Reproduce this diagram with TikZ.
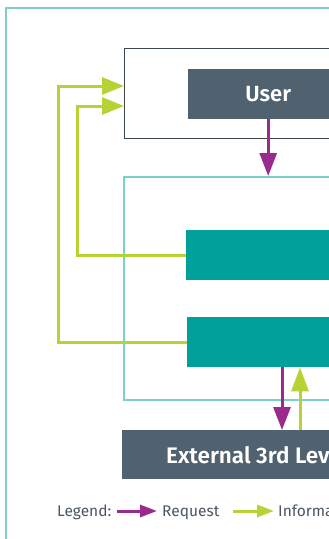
\documentclass[tikz,border=0pt]{standalone}
\usepackage{fontspec}
\setmainfont{Fira Sans}[BoldFont={Fira Sans SemiBold}]
\usetikzlibrary{arrows.meta}
\definecolor{tealfill}{HTML}{00A19A}
\definecolor{tealline}{HTML}{7DD0CA}
\definecolor{slate}{HTML}{506170}
\definecolor{lime}{HTML}{B5D334}
\definecolor{purp}{HTML}{9B2A8E}
\definecolor{boxline}{HTML}{3C4650}
\definecolor{legtext}{HTML}{4A5562}
\tikzset{
  req/.style={draw=purp, line width=3pt, -{Triangle[length=23pt,width=17pt]}},
  info/.style={draw=lime, line width=3pt, -{Triangle[length=22pt,width=17pt]}},
  legreq/.style={draw=purp, line width=3pt, -{Triangle[length=17pt,width=12pt]}},
  leginfo/.style={draw=lime, line width=3pt, -{Triangle[length=17pt,width=12pt]}},
  tealbox/.style={fill=tealfill, draw=none, anchor=north west, minimum height=50pt, minimum width=250pt},
  slatebox/.style={fill=slate, draw=none, anchor=north west, text=white, font=\bfseries\fontsize{22}{25}\selectfont},
  legtxt/.style={text=legtext, font=\fontsize{15.5}{18}\selectfont, inner sep=0pt, anchor=base west}
}
\begin{document}
\begin{tikzpicture}[x=1pt,y=-1pt]
\useasboundingbox (0,0) rectangle (329,539);
\clip (0,0) rectangle (329,539);
% outer frame
\node[draw=tealline, line width=1.5pt, anchor=north west, minimum width=400pt, minimum height=600pt] (outer) at (5,7) {};
% user frame
\node[draw=boxline, line width=1pt, anchor=north west, minimum width=300pt, minimum height=90pt] (ubox) at (124,48) {};
\node[slatebox, minimum width=160pt, minimum height=50pt] (user) at (188,69) {User};
% inner teal frame
\node[draw=tealline, line width=1.5pt, anchor=north west, minimum width=300pt, minimum height=223pt] (inner) at (123,176) {};
\node[tealbox] (b1) at (186,230) {};
\node[tealbox] (b2) at (187,317) {};
% external
\node[fill=slate, anchor=north west, minimum width=300pt, minimum height=49pt] (ext) at (122,430) {};
\node[anchor=west, text=white, font=\bfseries\fontsize{22.5}{25}\selectfont, inner sep=0pt] (extt) at (166,455) {External 3rd Lev};
% connectors
\coordinate (u1) at (124,86);
\coordinate (u2) at (124,106);
\draw[req] (user.south) -- (user.south |- inner.north);
\draw[info, -] (b2.west) -| ([xshift=-66pt]u1);
\draw[info] ([xshift=-67.5pt]u1) -- (u1);
\draw[info, -] (b1.west) -| ([xshift=-47pt]u2);
\draw[info] ([xshift=-48.5pt]u2) -- (u2);
\draw[req] ([xshift=95pt]b2.south west) -- ([xshift=160pt]ext.north west);
\draw[info,-{Triangle[length=24pt,width=17pt]}] ([xshift=178pt]ext.north west) -- ([xshift=113pt]b2.south west);
% legend
\node[legtxt] (leg) at (57,516) {Legend:};
\node[legtxt] (reqt) at (162,516) {Request};
\node[legtxt] (inft) at (278,516) {Informa};
\draw[legreq] (117,511) -- (157,511);
\draw[leginfo] (233,511) -- (274,511);
\end{tikzpicture}
\end{document}
